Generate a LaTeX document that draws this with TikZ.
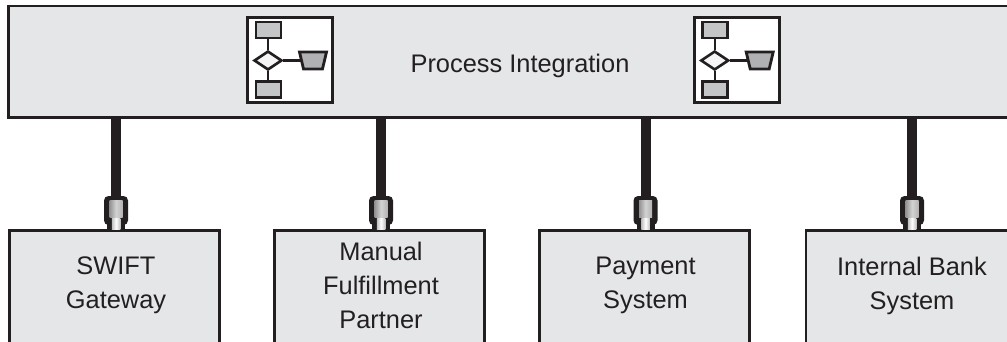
\documentclass[tikz,border=0pt]{standalone}
\usepackage{fontspec}
\setmainfont{Liberation Sans}
\usetikzlibrary{shapes.geometric}
\definecolor{ink}{HTML}{231F20}
\definecolor{panel}{HTML}{E5E6E8}
\definecolor{mid}{HTML}{C4C5C7}
\tikzset{
  x=1pt,y=-1pt,
  panelbox/.style={rectangle,draw=ink,fill=panel,line width=2.6pt,inner sep=0pt,anchor=north west},
  caption/.style={text=ink,font=\fontsize{25.4}{34}\selectfont,align=center,inner sep=0pt},
  iconframe/.style={rectangle,draw=ink,fill=white,line width=2.6pt,minimum width=85pt,minimum height=85pt,inner sep=0pt},
  iconrect/.style={rectangle,draw=ink,fill=mid,line width=2.8pt,minimum width=25pt,minimum height=16pt,inner sep=0pt},
  icondec/.style={diamond,aspect=1.5,draw=ink,fill=white!60!panel,line width=2.6pt,minimum width=28pt,minimum height=19pt,inner sep=0pt},
  icontrap/.style={trapezium,shape border rotate=180,trapezium stretches=true,trapezium left angle=78,trapezium right angle=78,draw=ink,fill=mid!90!black,line width=2.8pt,minimum width=27pt,minimum height=17pt,inner sep=1pt},
  iconline/.style={draw=ink,line width=2.4pt},
  cable/.style={draw=ink,line width=10pt},
  plugbody/.style={rectangle,rounded corners=4.5pt,fill=ink,minimum width=24pt,minimum height=29pt,inner sep=0pt},
  plugneck/.style={rectangle,fill=ink,minimum width=18pt,minimum height=12pt,inner sep=0pt},
  plugshade/.style={rectangle,left color=gray!85,right color=gray!60,middle color=gray!35!white,minimum width=13pt,minimum height=17pt,inner sep=0pt},
  plugtip/.style={rectangle,left color=gray!50,right color=gray!50,middle color=white,minimum width=8.5pt,minimum height=11.5pt,inner sep=0pt},
}
\begin{document}
\begin{tikzpicture}
\useasboundingbox (0,0) rectangle (1007,342);
\clip (0,0) rectangle (1007,342);
\node[panelbox,minimum width=1030pt,minimum height=111.5pt] (bar) at (6.9,4.9) {};
\node[caption] (title) at (520,65.5) {Process Integration};
\foreach \n/\cx in {a/290,b/736.7}{
  \node[iconframe] (f\n) at (\cx,60) {};
  \node[iconrect] (top\n) at (\cx-21.5,30) {};
  \node[icondec] (dec\n) at (\cx-22,60.5) {};
  \node[iconrect] (bot\n) at (\cx-21.5,89.5) {};
  \node[icontrap] (tr\n) at (\cx+23,60.5) {};
  \draw[iconline] (top\n.south -| dec\n.north) -- (dec\n.north);
  \draw[iconline] (dec\n.south) -- (bot\n.north -| dec\n.south);
  \draw[iconline] (dec\n.east) -- ([xshift=1pt]tr\n.west |- dec\n.east);
}
\foreach \n/\lx/\cx/\txt in {
  1/8.3/116/{SWIFT\\Gateway},
  2/273.4/381/{Manual\\Fulfillment\\Partner},
  3/538.3/645.5/{Payment\\System},
  4/804.5/912/{Internal Bank\\System}}{
  \node[panelbox,minimum width=210pt,minimum height=130pt] (box\n) at (\lx,229.3) {};
  \node[caption] (text\n) at (\cx,285.5) {\txt};
  \node[plugbody] (plug\n) at (\cx,210.5) {};
  \node[plugneck] (neck\n) at (\cx,224.5) {};
  \node[plugshade] (sh\n) at (\cx,208.5) {};
  \node[plugtip] (tip\n) at (\cx,224) {};
  \draw[cable] (plug\n.north |- bar.south) -- (plug\n.north);
}
\end{tikzpicture}
\end{document}
